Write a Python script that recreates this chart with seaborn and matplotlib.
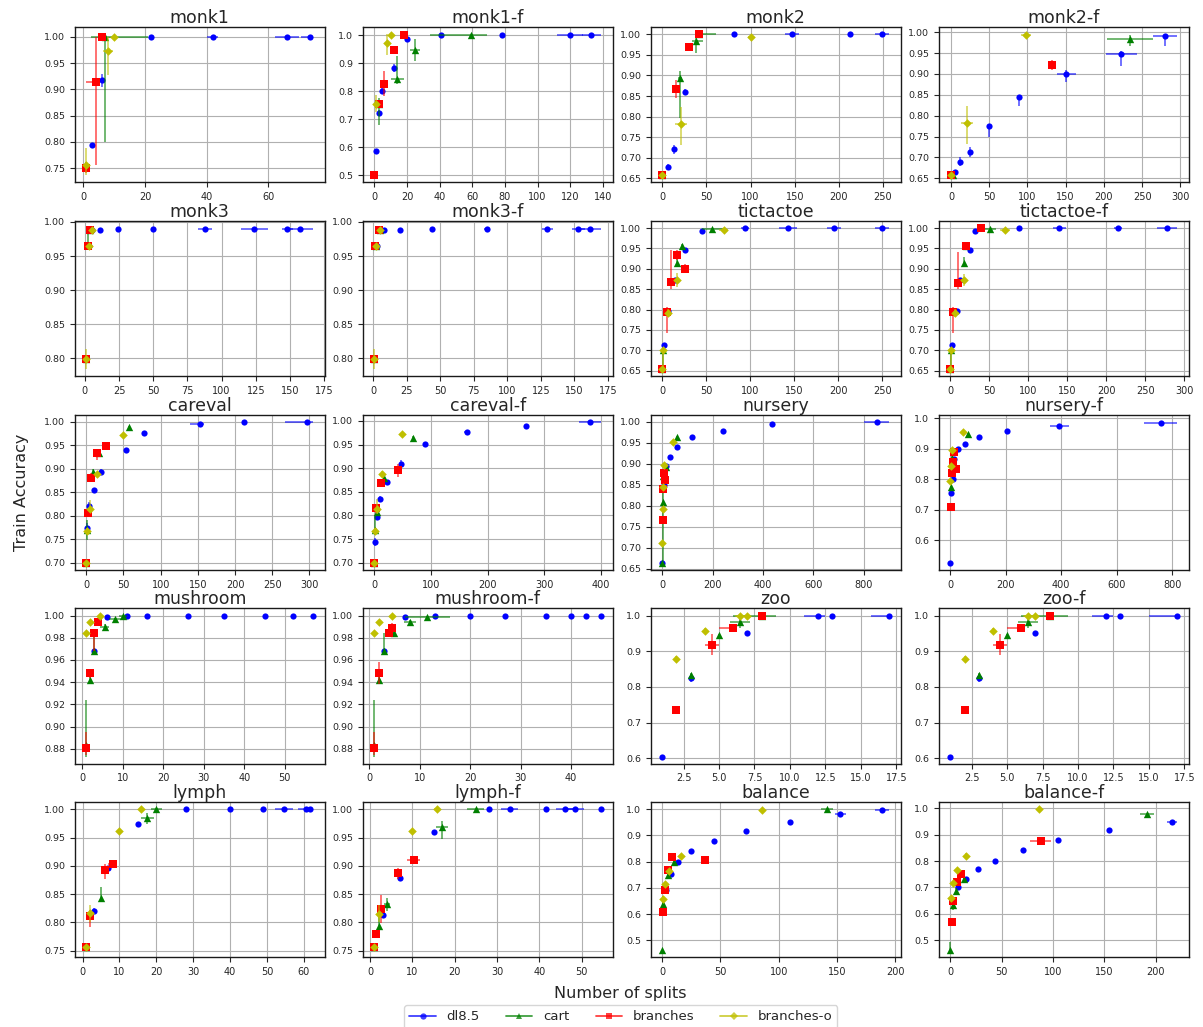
import matplotlib
matplotlib.use("Agg")
import matplotlib.pyplot as plt
from matplotlib.lines import Line2D
import numpy as np
import seaborn as sns

# Methods compared on every dataset, in drawing order
METHODS = ["dl8.5", "cart", "branches", "branches-o"]
COLORS = {"dl8.5": "b", "cart": "g", "branches": "r", "branches-o": "y"}
MARKERS = {"dl8.5": "o", "cart": "^", "branches": "s", "branches-o": "D"}
MARKER_AREA = {"dl8.5": 20, "cart": 28, "branches": 26, "branches-o": 19}

# Each point: (splits, train accuracy, splits error, accuracy error).
# An error given as a pair is (below, above); a single number is symmetric.
MONK1 = {
    "dl8.5": [(1, 0.75, 0, 0.005), (3, 0.793, 0, 0.004), (6, 0.917, 0.6, 0.012), (22, 1.0, 0, 0),
              (42, 1.0, 1.8, 0), (66, 1.0, 4, 0), (73.5, 1.0, (3, 1), 0)],
    "cart": [(1, 0.752, 0, 0.01), (7, 1.0, (4.5, 14), (0.2, 0.005))],
    "branches": [(1, 0.75, 0, 0.01), (4, 0.915, (3, 1.2), (0.16, 0.085)), (6, 1.0, 0.8, 0)],
    "branches-o": [(1, 0.756, 0, (0.02, 0.033)), (8, 0.974, 1.5, (0.047, 0.026)), (10, 1.0, 0.5, 0)],
}
MONK1_F = {
    "dl8.5": [(1, 0.588, 0, 0.006), (3, 0.723, 0, 0.01), (5, 0.80, 0, 0.01), (12, 0.883, 0, 0.015),
              (12, 0.952, 0, 0.005), (20, 0.987, 0, 0.01), (41, 1.0, 0, 0), (78, 1.0, 0, 0),
              (120, 1.0, 8, 0), (133, 1.0, 6, 0)],
    "cart": [(3, 0.755, 0, (0.075, 0.02)), (14, 0.845, 4, (0.02, 0.08)), (25, 0.948, 3, 0.04),
             (59, 1.0, (25, 10), 0)],
    "branches": [(0, 0.5, 0, 0), (3, 0.755, 0, 0), (6, 0.827, 2.5, 0.045), (12, 0.948, 0, 0), (18, 1.0, 0, 0)],
    "branches-o": [(1, 0.756, 0, 0.03), (8, 0.973, 0, (0.045, 0.03)), (10, 1.0, 0, 0)],
}
MONK2 = {
    "dl8.5": [(0, 0.657, 0, 0), (6, 0.678, 0, 0.006), (13, 0.72, 0, 0.01), (26, 0.859, 0, 0.007),
              (81, 1.0, 0, 0), (147, 1.0, 8, 0), (213, 1.0, 0, 0), (249, 1.0, 8, 0)],
    "cart": [(0, 0.657, 0, 0), (20, 0.895, 2, (0.098, 0.015)), (38, 0.984, (4, 8), (0.03, 0.016)),
             (42, 1.0, (0, 19), 0)],
    "branches": [(0, 0.657, 0, 0), (16, 0.867, 0, 0.022), (30, 0.97, 0, 0), (41, 1.0, 0, 0)],
    "branches-o": [(0, 0.657, 0, 0), (21, 0.781, 7, (0.049, 0.042)), (100, 0.994, 3, 0)],
}
MONK2_F = {
    "dl8.5": [(0, 0.657, 0, 0), (5, 0.665, 0, 0.004), (12, 0.69, 0, 0.01), (25, 0.713, 0, 0.012),
              (50, 0.776, 0, (0.027, 0.004)), (89, 0.844, 0, (0.02, 0.005)), (151, 0.90, 12, (0.02, 0.01)),
              (223, 0.948, 20, (0.03, 0.006)), (280, 0.99, 16, (0.023, 0.005))],
    "cart": [(2, 0.657, 3, 0), (234, 0.984, 30, (0.018, 0.01))],
    "branches": [(0, 0.657, 0, 0), (132, 0.921, 0, 0.012)],
    "branches-o": [(0, 0.657, 0, 0), (21, 0.782, 8, (0.05, 0.042)), (98, 0.994, 6, 0)],
}
MONK3 = {
    "dl8.5": [(1, 0.799, 0, 0), (3, 0.964, 0, 0), (5, 0.988, 0, 0), (11, 0.988, 0, 0.002), (24, 0.99, 0, 0),
              (50, 0.99, 0, 0), (88, 0.99, 5, 0), (124, 0.99, 10, 0), (148, 0.99, 4, 0), (157, 0.99, 10, 0)],
    "cart": [(1, 0.799, 0, 0), (2, 0.966, 0, (0.004, 0.02)), (4, 0.988, 0, 0)],
    "branches": [(1, 0.799, 0, 0), (2, 0.964, 0, 0), (4, 0.988, 0, 0)],
    "branches-o": [(1, 0.799, 0, 0.015), (3, 0.964, 0, 0), (5, 0.988, 1, 0.003)],
}
MONK3_F = {
    "dl8.5": [(1, 0.799, 0, 0), (3, 0.964, 0, 0), (8, 0.988, 0, 0.002), (20, 0.988, 0, 0.003),
              (44, 0.99, 0, 0), (85, 0.99, 2, 0), (130, 0.99, 4, 0), (153, 0.99, 5, 0), (162, 0.99, 8, 0)],
    "cart": [(1, 0.799, 0, 0), (2, 0.964, 0, 0), (5, 0.988, 0, 0)],
    "branches": [(1, 0.799, 0, 0), (1.5, 0.964, 0, 0), (4.5, 0.988, 0, 0)],
    "branches-o": [(1, 0.799, 0, 0.015), (2, 0.964, 0, 0), (5, 0.988, 1, 0.003)],
}
TICTACTOE = {
    "dl8.5": [(0, 0.654, 0, 0), (2, 0.714, 0, 0), (6, 0.796, 0, 0), (14, 0.872, 0, 0), (26, 0.947, 0, 0.004),
              (45, 0.993, 0, 0), (94, 1.0, 5, 0), (143, 1.0, 10, 0), (195, 1.0, 8, 0), (250, 1.0, 8, 0)],
    "cart": [(0, 0.654, 0, 0), (1, 0.70, 0, (0.045, 0)), (17, 0.915, 0, (0.01, 0.012)),
             (22, 0.955, 0, 0.005), (56, 0.997, (11, 13), 0)],
    "branches": [(0, 0.654, 0, 0), (5, 0.794, 2, (0.052, 0.012)), (10, 0.867, 0, (0.017, 0.078)),
                 (17, 0.935, 0, (0.013, 0.012)), (26, 0.90, 0, (0.006, 0.011))],
    "branches-o": [(0, 0.654, 0, 0), (1, 0.70, 0, (0.045, 0)), (6, 0.792, 0, 0.01),
                   (17, 0.872, 0, (0.016, 0.018)), (70, 0.996, 5, 0)],
}
TICTACTOE_F = {
    "dl8.5": [(0, 0.654, 0, 0), (2.5, 0.714, 0, 0), (8, 0.796, 0, 0), (13, 0.872, 0, 0),
              (25.5, 0.946, 0, 0.005), (31, 0.993, 0, 0), (88, 1.0, 3, 0), (140, 1.0, 8, 0),
              (215, 1.0, 5, 0), (278, 1.0, 13, 0)],
    "cart": [(0, 0.654, 0, 0), (1, 0.70, 0, (0.045, 0)), (17, 0.915, 0, (0.01, 0.014)),
             (20.5, 0.957, 0, 0), (51, 0.997, 8, 0)],
    "branches": [(0, 0.654, 0, 0), (4, 0.794, 2, (0.052, 0.012)), (9.3, 0.865, 0, (0.015, 0.076)),
                 (19.6, 0.955, 0, 0.005), (39, 1.0, 0, 0)],
    "branches-o": [(0, 0.654, 0, 0), (1, 0.70, 0, (0.045, 0)), (6, 0.792, 0, 0.01),
                   (17.6, 0.872, 0, 0.015), (70, 0.995, 6, 0)],
}
CAREVAL = {
    "dl8.5": [(0, 0.70, 0, 0), (1, 0.775, 0, 0.01), (4, 0.821, 0, 0.008), (10, 0.854, 0, 0.006),
              (20, 0.894, 0, 0.005), (53, 0.94, 0, 0.004), (77, 0.977, 0, 0.003),
              (153, 0.995, (13, 5), 0), (212, 1.0, 3, 0), (297, 1.0, (30, 8), 0)],
    "cart": [(0, 0.70, 0, 0), (1, 0.77, 0, 0.022), (9, 0.893, 0, 0.006), (17, 0.933, 0, 0.006),
             (58, 0.988, 0, 0.004)],
    "branches": [(0, 0.70, 0, 0), (2, 0.806, 0, 0.005), (7, 0.881, 0, 0.009), (15, 0.934, 0, (0.015, 0.007)),
                 (26, 0.949, 0, 0.003)],
    "branches-o": [(0, 0.70, 0, 0), (1, 0.768, 0, 0.006), (5, 0.814, 0, (0.006, 0.02)),
                   (14, 0.888, 0, 0.004), (50, 0.972, 0, 0.004)],
}
CAREVAL_F = {
    "dl8.5": [(0, 0.70, 0, 0), (1, 0.744, 0, 0.008), (4.6, 0.796, 0, 0.006), (10, 0.835, 0, 0.007),
              (23, 0.871, 0, 0.004), (47, 0.909, 0, 0.008), (89, 0.951, 0, 0.004), (163, 0.977, 4, 0.004),
              (267, 0.99, 3, 0.003), (380, 0.998, 20, 0)],
    "cart": [(0, 0.70, 0, 0), (1, 0.77, 0, (0.012, 0.03)), (4, 0.808, 0, 0.006), (17, 0.88, 0, 0.006),
             (68, 0.964, 0, 0.004)],
    "branches": [(0, 0.70, 0, 0), (3, 0.815, 0, 0.01), (12, 0.869, 0, 0.008), (42, 0.897, 0, (0.016, 0.012))],
    "branches-o": [(0, 0.70, 0, 0), (1, 0.768, 0, 0.005), (5, 0.814, 0, (0.01, 0.02)), (13, 0.888, 0, 0.006),
                   (49, 0.972, 0, 0.004)],
}
NURSERY = {
    "dl8.5": [(1, 0.664, 0, 0), (8, 0.85, 0, 0), (16, 0.895, 0, 0.004), (31, 0.916, 0, 0.003),
              (61, 0.941, 0, 0.004), (120, 0.963, 0, 0.003), (240, 0.979, 0, 0.002), (434, 0.994, 0, 0.002),
              (850, 1.0, 50, 0)],
    "cart": [(1, 0.664, 0, 0), (3, 0.808, 0, (0.14, 0.04)), (5, 0.87, 0, 0), (16, 0.893, 0, 0),
             (60, 0.963, 0, 0.003)],
    "branches": [(2, 0.767, 0, 0.005), (4, 0.839, 0, 0.004), (7, 0.878, 0, 0.004), (12, 0.862, 0, 0.005)],
    "branches-o": [(1, 0.711, 0, 0.004), (2, 0.792, 0, 0.004), (3, 0.844, 0, 0.004), (6, 0.896, 0, 0.004),
                   (44, 0.952, 0, 0.004)],
}
NURSERY_F = {
    "dl8.5": [(1, 0.527, 0, 0), (3, 0.755, 0, 0.005), (9, 0.80, 0, 0), (15, 0.866, 0, 0.005),
              (29, 0.899, 0, 0.004), (53, 0.917, 0, 0.003), (104, 0.939, 0, 0.003), (205, 0.959, 0, 0.003),
              (394, 0.975, 35, 0.003), (758, 0.985, 60, 0.003)],
    "cart": [(3, 0.774, 0, 0.005), (8, 0.87, 0, 0.005), (64, 0.948, 0, 0.003)],
    "branches": [(2, 0.711, 0, 0.005), (6, 0.822, 0, 0.005), (9, 0.858, 0, 0.005), (14, 0.89, 0, 0.005),
                 (20, 0.834, 0, 0.004)],
    "branches-o": [(1, 0.793, 0, 0.005), (3, 0.842, 0, 0.005), (6, 0.895, 0, 0.005), (45, 0.953, 0, 0.004)],
}
MUSHROOM = {
    "dl8.5": [(1, 0.882, 0, 0), (3, 0.968, 0, 0.002), (6, 0.999, 0, 0), (11, 1.0, 0, 0), (16, 1.0, 0, 0),
              (26, 1.0, 0, 0), (35, 1.0, 0, 0), (45, 1.0, 0, 0), (52, 1.0, 0, 0), (57, 1.0, 0, 0)],
    "cart": [(1, 0.883, 0, (0.01, 0.041)), (2, 0.942, 0, 0.004), (3, 0.968, 0, (0.002, 0.016)),
             (5.5, 0.990, 1, 0.002), (8, 0.997, 1.5, 0.001), (10, 1.0, 1, 0)],
    "branches": [(1, 0.881, 0, (0.007, 0.014)), (2, 0.948, 0, 0.004), (3, 0.984, 0, (0.016, 0.003)),
                 (4, 0.994, 0, 0.001)],
    "branches-o": [(1, 0.984, 0, 0.001), (2, 0.994, 0, 0.001), (4.5, 1.0, 0, 0)],
}
MUSHROOM_F = {
    "dl8.5": [(1, 0.882, 0, 0), (3, 0.968, 0, 0.002), (7, 0.999, 0, 0), (13, 1.0, 0, 0), (20, 1.0, 0, 0),
              (27, 1.0, 0, 0), (35, 1.0, 0, 0), (40, 1.0, 0, 0), (43, 1.0, 0, 0), (46, 1.0, 0, 0)],
    "cart": [(1, 0.883, 0, (0.01, 0.041)), (2, 0.942, 0, 0.004), (3, 0.968, 0, (0.002, 0.016)),
             (5, 0.984, 0, 0.003), (8, 0.994, 1.2, 0.002), (11.5, 0.999, 4.5, 0.001)],
    "branches": [(1, 0.881, 0, (0.007, 0.014)), (2, 0.948, 0, 0.01), (4, 0.984, 0, 0.002),
                 (4.5, 0.989, 0, 0.004)],
    "branches-o": [(1, 0.984, 0, 0.001), (2, 0.994, 0, 0.001), (4.5, 1.0, 0, 0)],
}
ZOO = {
    "dl8.5": [(1, 0.605, 0, 0), (3, 0.825, 0, 0.01), (7, 0.95, 0, 0), (12, 1.0, (1.0, 0.5), 0),
              (13, 1.0, 0, 0), (17, 1.0, (1.3, 0), 0)],
    "cart": [(3, 0.832, 0, 0.008), (5, 0.944, 0, 0.005), (6.5, 0.982, 0.7, 0.017), (8, 1.0, (2, 1), 0)],
    "branches": [(2, 0.736, 0, 0.007), (4.5, 0.918, 0.5, 0.03), (6, 0.966, (1, 0.1), 0.008), (8, 1.0, 0, 0)],
    "branches-o": [(2, 0.878, 0, 0.008), (4, 0.957, 0, 0.008), (6.5, 1.0, 0.4, 0), (7, 1.0, 0, 0)],
}
ZOO_F = {
    "dl8.5": [(1, 0.605, 0, 0), (3, 0.825, 0, 0.01), (7, 0.95, 0, 0), (12, 1.0, (1.0, 0.5), 0),
              (13, 1.0, 0, 0), (17, 1.0, (2, 0), 0)],
    "cart": [(3, 0.832, 0, 0.008), (5, 0.944, 0, 0.005), (6.5, 0.982, 0.7, 0.017), (8, 1.0, (2, 1.3), 0)],
    "branches": [(2, 0.736, 0, 0.007), (4.5, 0.918, 0.5, 0.03), (6, 0.966, (1, 0.1), 0.008), (8, 1.0, 0, 0)],
    "branches-o": [(2, 0.878, 0, 0.008), (4, 0.957, 0, 0.008), (6.5, 1.0, 0.4, 0), (7, 1.0, 0, 0)],
}
LYMPH = {
    "dl8.5": [(1, 0.756, 0, 0), (3, 0.821, 0, 0.005), (7, 0.896, 0, 0.004), (15, 0.974, 0, 0.003),
              (28, 1.0, 0, 0), (40, 1.0, 0, 0), (49, 1.0, 0, 0), (54.6, 1.0, 2.4, 0), (60.5, 1.0, 2, 0),
              (61.6, 1.0, 0, 0)],
    "cart": [(1, 0.756, 0, 0), (5, 0.843, 0, (0.003, 0.02)), (17.5, 0.984, 1.8, 0.01), (20, 1.0, 1.5, 0)],
    "branches": [(1, 0.756, 0, 0.005), (2, 0.812, 0, (0.02, 0.01)), (6, 0.892, 0, (0.016, 0.012)),
                 (8.2, 0.903, 1.2, 0.006)],
    "branches-o": [(1, 0.756, 0, 0), (2, 0.816, 0, 0.015), (10, 0.962, 0.5, 0), (15.8, 1.0, 0.6, 0)],
}
LYMPH_F = {
    "dl8.5": [(1, 0.756, 0, 0), (3, 0.813, 0, 0.005), (7, 0.879, 0, 0.004), (15, 0.959, 0, 0.003),
              (28, 1.0, 0, 0), (33, 1.0, 2, 0), (41.5, 1.0, 0, 0), (46, 1.0, 2, 0), (48.5, 1.0, 2, 0),
              (54.6, 1.0, 0, 0)],
    "cart": [(1, 0.756, 0, 0), (2, 0.793, 0, 0.02), (4, 0.832, 0.8, 0.012), (17, 0.969, 1.5, (0.022, 0.01)),
             (25, 1.0, 2, 0)],
    "branches": [(1, 0.756, 0, 0.005), (1.5, 0.779, 0, 0), (2.6, 0.824, 0.8, 0.025), (6.6, 0.887, 1, 0.01),
                 (10.3, 0.91, 1.5, 0.004)],
    "branches-o": [(1, 0.756, 0, 0), (2, 0.815, 0, 0.015), (10, 0.962, 0.5, 0), (15.8, 1.0, 0.6, 0)],
}
BALANCE = {
    "dl8.5": [(3, 0.693, 0, 0), (7.5, 0.754, 0, 0), (13.5, 0.80, 0, 0), (25, 0.839, 0, 0), (44, 0.877, 0, 0),
              (72, 0.916, 0, 0), (110, 0.953, 0, 0), (153, 0.98, 5, 0), (189, 0.997, 6, 0)],
    "cart": [(0, 0.462, 0, 0), (1, 0.64, 0, 0.03), (4.5, 0.748, 0, 0.01), (10, 0.80, 0, 0.01),
             (141.5, 1.0, 5, 0)],
    "branches": [(1, 0.606, 0, 0.01), (2.3, 0.69, 0, 0.01), (4.6, 0.767, 0, 0.01), (8.5, 0.818, 0, 0.01),
                 (36.6, 0.805, 3, 0.004)],
    "branches-o": [(1, 0.657, 0, 0.01), (2.6, 0.714, 0, 0.01), (6, 0.763, 0, 0.01), (16, 0.82, 0, 0.008),
                   (86, 0.996, 0, 0)],
}
BALANCE_F = {
    "dl8.5": [(2.6, 0.65, 0, 0), (7.4, 0.70, 0, 0), (14.8, 0.733, 0, 0), (26.5, 0.771, 0, 0),
              (43.5, 0.801, 0, 0), (70.5, 0.841, 0, 0), (104.4, 0.880, 0, 0), (154.6, 0.919, 0, 0),
              (216, 0.949, 5, 0)],
    "cart": [(0, 0.462, 0, (0, 0.03)), (2.2, 0.634, 0, 0.02), (5.2, 0.687, 0, 0.01), (13, 0.733, 0, 0.005),
             (191.5, 0.98, 7, 0)],
    "branches": [(1.5, 0.57, 0, 0.005), (2.6, 0.65, 0, 0.01), (6.3, 0.72, 0, 0.01), (10.3, 0.75, 0, 0.005),
                 (88, 0.875, 10, 0.015)],
    "branches-o": [(1, 0.659, 0, 0.008), (2.6, 0.716, 0, 0.008), (6.3, 0.765, 0, 0.008),
                   (15.5, 0.821, 0, 0.01), (86, 0.997, 0, 0)],
}

PANELS = [
    ("monk1", MONK1), ("monk1-f", MONK1_F), ("monk2", MONK2), ("monk2-f", MONK2_F),
    ("monk3", MONK3), ("monk3-f", MONK3_F), ("tictactoe", TICTACTOE), ("tictactoe-f", TICTACTOE_F),
    ("careval", CAREVAL), ("careval-f", CAREVAL_F), ("nursery", NURSERY), ("nursery-f", NURSERY_F),
    ("mushroom", MUSHROOM), ("mushroom-f", MUSHROOM_F), ("zoo", ZOO), ("zoo-f", ZOO_F),
    ("lymph", LYMPH), ("lymph-f", LYMPH_F), ("balance", BALANCE), ("balance-f", BALANCE_F),
]


def err_array(values):
    """Turn scalar / (below, above) errors into a 2xN array for errorbar."""
    lo, hi = [], []
    for v in values:
        if isinstance(v, tuple):
            lo.append(v[0])
            hi.append(v[1])
        else:
            lo.append(v)
            hi.append(v)
    return np.array([lo, hi])


sns.set_style("ticks", {"axes.grid": True, "grid.color": "#b0b0b0", "axes.edgecolor": "0.1"})
plt.rcParams["font.family"] = ["DejaVu Sans"]

fig, axes = plt.subplots(5, 4, figsize=(12.03, 10.27), dpi=100)
fig.subplots_adjust(left=0.0623, right=0.988, top=0.9734, bottom=0.0679, wspace=0.154, hspace=0.249)

for ax, (name, data) in zip(axes.flat, PANELS):
    # tick label sizes also drive how densely the automatic locators place ticks
    ax.tick_params(axis="x", labelsize=7, length=3.5, width=0.8)
    ax.tick_params(axis="y", labelsize=6.8, length=3.5, width=0.8)
    for k, method in enumerate(METHODS):
        pts = data[method]
        xs = [p[0] for p in pts]
        ys = [p[1] for p in pts]
        xe = err_array([p[2] for p in pts])
        ye = err_array([p[3] for p in pts])
        ax.errorbar(xs, ys, xerr=xe, yerr=ye, fmt="none", ecolor=COLORS[method],
                    elinewidth=1.3, alpha=0.6, capsize=0, zorder=2 + k)
        sns.scatterplot(x=xs, y=ys, marker=MARKERS[method], color=COLORS[method],
                        s=MARKER_AREA[method], linewidth=0, ax=ax, zorder=2.5 + k, legend=False)
    ax.set_title(name, fontsize=12.5, pad=3)
    ax.grid(True, color="#b0b0b0", linewidth=0.8)
    ax.set_axisbelow(True)
    for sp in ax.spines.values():
        sp.set_linewidth(1.0)

fig.text(0.0175, 0.521, "Train Accuracy", rotation=90, ha="center", va="center", fontsize=11.5)
fig.text(0.516, 0.033, "Number of splits", ha="center", va="center", fontsize=11.5)

handles = [
    Line2D([0], [0], color=COLORS[m], alpha=0.75, lw=1.3, marker=MARKERS[m],
           markersize=4.5 if m != "branches-o" else 4, markeredgewidth=0)
    for m in METHODS
]
fig.legend(handles, METHODS, loc="upper center", bbox_to_anchor=(0.516, 0.0214), ncol=4,
           fontsize=9.5, borderaxespad=0, frameon=True)

fig.savefig("out.png", dpi=100)
